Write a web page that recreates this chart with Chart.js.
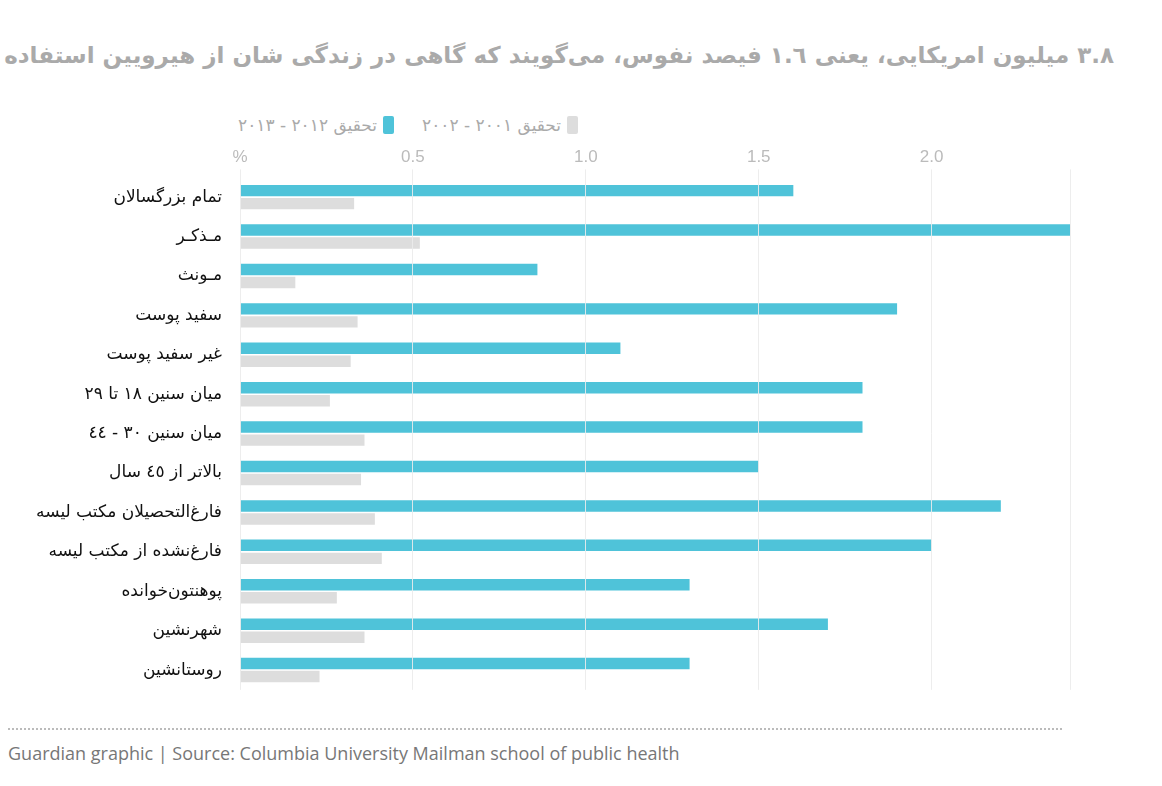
<!DOCTYPE html>
<html><head><meta charset="utf-8">
<script src="https://cdn.jsdelivr.net/npm/chart.js@4"></script>
<style>
body{margin:0;background:#fff;font-family:"DejaVu Sans","Open Sans",sans-serif;width:1162px;height:786px;position:relative;overflow:hidden}
#title{position:absolute;right:48px;top:42px;font-size:23px;font-weight:bold;color:#aaa;direction:rtl;white-space:nowrap}
#legend{position:absolute;left:238px;top:115px;font-size:17px;color:#aaa;display:flex;gap:28px;direction:ltr}
#legend span{display:flex;align-items:center;gap:6px;direction:rtl}
#legend i{display:inline-block;width:11px;height:18px;border-radius:2px}
#wrap{position:absolute;left:0;top:145px;width:1072px;height:565px}
#rule{position:absolute;left:8px;width:1054px;top:728px;border-top:2px dotted #bbb}
#source{position:absolute;left:8px;top:741px;font-size:18px;color:#777;font-family:"Open Sans",sans-serif}
</style></head><body>
<div id="title">۳.۸ میلیون امریکایی، یعنی ۱.٦ فیصد نفوس، می‌گویند که گاهی در زندگی شان از هیرویین استفاده کرده‌اند</div>
<div id="legend"><span><i style="background:#4fc3d9"></i>تحقیق ۲۰۱۲ - ۲۰۱۳</span><span><i style="background:#ddd"></i>تحقیق ۲۰۰۱ - ۲۰۰۲</span></div>
<div id="wrap"><canvas id="c"></canvas></div>
<div id="rule"></div>
<div id="source">Guardian graphic | Source: Columbia University Mailman school of public health</div>
<script>
var categories = ['تمام بزرگسالان','مـذکـر','مـونث','سفید پوست','غیر سفید پوست','میان سنین ۱۸ تا ۲۹','میان سنین ۳۰ - ٤٤','بالاتر از ٤٥ سال','فارغ‌التحصیلان مکتب لیسه','فارغ‌نشده از مکتب لیسه','پوهنتون‌خوانده','شهرنشین','روستانشین'];
var survey2013 = [1.6, 2.4, 0.86, 1.9, 1.1, 1.8, 1.8, 1.5, 2.2, 2.0, 1.3, 1.7, 1.3];
var survey2002 = [0.33, 0.52, 0.16, 0.34, 0.32, 0.26, 0.36, 0.35, 0.39, 0.41, 0.28, 0.36, 0.23];
var tickLabels = {0: '%', 0.5: '0.5', 1: '1.0', 1.5: '1.5', 2: '2.0'};

new Chart(document.getElementById('c'), {
	type: 'bar',
	data: {
		labels: categories,
		datasets: [
			{label: 'تحقیق ۲۰۱۲ - ۲۰۱۳', data: survey2013, backgroundColor: '#4fc3d9'},
			{label: 'تحقیق ۲۰۰۱ - ۲۰۰۲', data: survey2002, backgroundColor: '#dddddd'}
		]
	},
	options: {
		indexAxis: 'y',
		responsive: true,
		maintainAspectRatio: false,
		animation: false,
		layout: {padding: {right: 0, top: 0}},
		categoryPercentage: 0.66,
		barPercentage: 0.88,
		plugins: {legend: {display: false}, tooltip: {enabled: false}},
		scales: {
			x: {
				position: 'top', min: 0, max: 2.4,
				border: {display: false},
				grid: {color: 'rgba(235,235,235,0.9)', z: 1, drawTicks: true, tickLength: 8},
				ticks: {stepSize: 0.5, color: '#bbb', font: {size: 17}, padding: 2,
					callback: function (v) { return tickLabels[v] !== undefined ? tickLabels[v] : ''; }}
			},
			y: {
				border: {display: false},
				grid: {display: false},
				afterFit: function (s) { s.width = 240; },
				ticks: {color: '#111', font: {size: 17, family: 'DejaVu Sans'}, padding: 10}
			}
		}
	}
});
</script>
</body></html>
